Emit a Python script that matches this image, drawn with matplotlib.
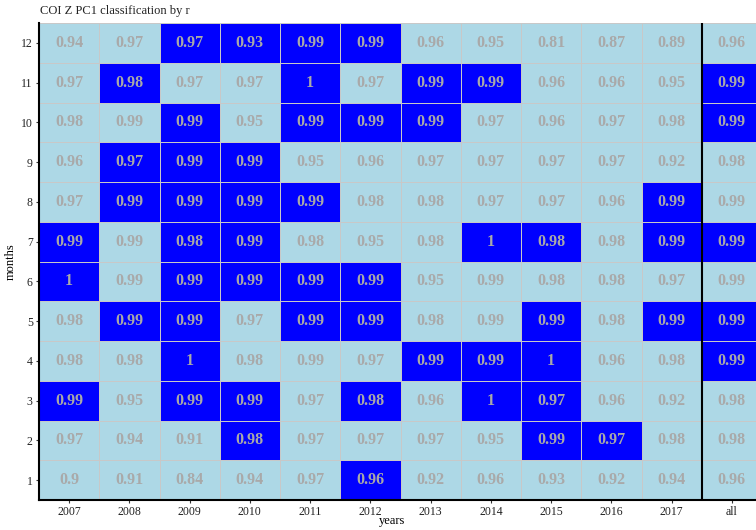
import matplotlib
matplotlib.use('Agg')
import matplotlib.pyplot as plt
from matplotlib.colors import ListedColormap
import numpy as np

plt.rcParams['font.family'] = ['Liberation Serif', 'DejaVu Serif']

years = ['2007', '2008', '2009', '2010', '2011', '2012', '2013', '2014',
         '2015', '2016', '2017', 'all']
months = list(range(1, 13))

# r values, rows are months 1..12, columns are years (last = all)
r_values = [
    [0.90, 0.91, 0.84, 0.94, 0.97, 0.96, 0.92, 0.96, 0.93, 0.92, 0.94, 0.96],
    [0.97, 0.94, 0.91, 0.98, 0.97, 0.97, 0.97, 0.95, 0.99, 0.97, 0.98, 0.98],
    [0.99, 0.95, 0.99, 0.99, 0.97, 0.98, 0.96, 1.00, 0.97, 0.96, 0.92, 0.98],
    [0.98, 0.98, 1.00, 0.98, 0.99, 0.97, 0.99, 0.99, 1.00, 0.96, 0.98, 0.99],
    [0.98, 0.99, 0.99, 0.97, 0.99, 0.99, 0.98, 0.99, 0.99, 0.98, 0.99, 0.99],
    [1.00, 0.99, 0.99, 0.99, 0.99, 0.99, 0.95, 0.99, 0.98, 0.98, 0.97, 0.99],
    [0.99, 0.99, 0.98, 0.99, 0.98, 0.95, 0.98, 1.00, 0.98, 0.98, 0.99, 0.99],
    [0.97, 0.99, 0.99, 0.99, 0.99, 0.98, 0.98, 0.97, 0.97, 0.96, 0.99, 0.99],
    [0.96, 0.97, 0.99, 0.99, 0.95, 0.96, 0.97, 0.97, 0.97, 0.97, 0.92, 0.98],
    [0.98, 0.99, 0.99, 0.95, 0.99, 0.99, 0.99, 0.97, 0.96, 0.97, 0.98, 0.99],
    [0.97, 0.98, 0.97, 0.97, 1.00, 0.97, 0.99, 0.99, 0.96, 0.96, 0.95, 0.99],
    [0.94, 0.97, 0.97, 0.93, 0.99, 0.99, 0.96, 0.95, 0.81, 0.87, 0.89, 0.96],
]

# classification flag (1 = highlighted), same layout
selected = [
    [0, 0, 0, 0, 0, 1, 0, 0, 0, 0, 0, 0],
    [0, 0, 0, 1, 0, 0, 0, 0, 1, 1, 0, 0],
    [1, 0, 1, 1, 0, 1, 0, 1, 1, 0, 0, 0],
    [0, 0, 1, 0, 0, 0, 1, 1, 1, 0, 0, 1],
    [0, 1, 1, 0, 1, 1, 0, 0, 1, 0, 1, 1],
    [1, 0, 1, 1, 1, 1, 0, 0, 0, 0, 0, 0],
    [1, 0, 1, 1, 0, 0, 0, 1, 1, 0, 1, 1],
    [0, 1, 1, 1, 1, 0, 0, 0, 0, 0, 1, 0],
    [0, 1, 1, 1, 0, 0, 0, 0, 0, 0, 0, 0],
    [0, 0, 1, 0, 1, 1, 1, 0, 0, 0, 0, 1],
    [0, 1, 0, 0, 1, 0, 1, 1, 0, 0, 0, 1],
    [0, 0, 1, 1, 1, 1, 0, 0, 0, 0, 0, 0],
]

vals = np.array(r_values)
flag = np.array(selected)

fig = plt.figure(figsize=(7.56, 5.30), dpi=100)
ax = fig.add_axes([39 / 756, 30 / 530, 723 / 756, 477 / 530])

x = np.arange(len(years) + 1) - 0.5
y = np.arange(len(months) + 1) + 0.5
ax.pcolormesh(x, y, flag, cmap=ListedColormap(['#add8e6', '#0000ff']),
              vmin=0, vmax=1, edgecolors='#c8c8c8', linewidth=0.5)

for i, m in enumerate(months):
    for j, yr in enumerate(years):
        v = vals[i, j]
        txt = '1' if v == 1 else f'{v:g}'
        ax.text(j, m, txt, ha='center', va='center', fontsize=11.5,
                fontweight='bold', color='#a9a9a9')

ax.axvline(len(years) - 1.5, color='black', lw=1.5)

ax.set_xlim(-0.5, len(years) - 0.5)
ax.set_ylim(0.5, 12.5)
ax.set_xticks(range(len(years)))
ax.set_xticklabels(years)
ax.set_yticks(months)
ax.tick_params(labelsize=8.5, length=2.5, width=0.8, pad=2, colors='#333333')
ax.tick_params(labelcolor='#222222')
for s in ['top', 'right']:
    ax.spines[s].set_visible(False)
for s in ['left', 'bottom']:
    ax.spines[s].set_linewidth(1.5)
    ax.spines[s].set_color('black')

ax.set_xlabel('years', fontsize=9, va='center')
ax.set_ylabel('months', fontsize=9, labelpad=3)
ax.xaxis.set_label_coords((392 - 39) / 723, -21 / 477)
fig.text(40 / 756, 1 - 11 / 530, 'COI Z PC1 classification by r', fontsize=9,
         ha='left', va='center', color='#222222')

fig.savefig('out.png', dpi=100)
